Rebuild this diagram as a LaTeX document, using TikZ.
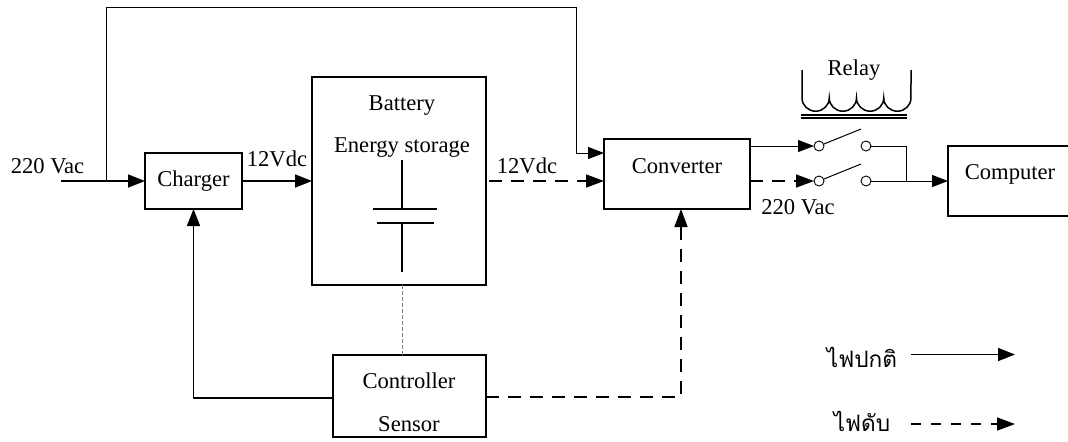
\documentclass[tikz,border=0pt]{standalone}
\usepackage{fontspec}
\setmainfont{Liberation Serif}
\newfontfamily\thaifont[Script=Thai]{Loma}
\usetikzlibrary{arrows.meta,positioning}

\begin{document}
\begin{tikzpicture}[x=0.5pt,y=-0.5pt,font=\fontsize{11.3}{13.5}\selectfont]
\tikzset{
  block/.style={draw,line width=0.75pt,inner sep=0pt,outer sep=0pt,align=center},
  txt/.style={inner sep=0pt,align=center},
  contact/.style={draw,circle,inner sep=0pt,outer sep=0pt,minimum size=5pt,line width=0.45pt},
  arr/.style={-{Triangle[length=8.5pt,width=6.5pt]},line width=0.75pt},
  arrthin/.style={-{Triangle[length=8pt,width=6pt]},line width=0.5pt},
  dasharr/.style={-{Triangle[length=9pt,width=6.5pt]},line width=0.75pt,dash pattern=on 6.5pt off 4.5pt},
  wire/.style={line width=0.5pt}
}
\useasboundingbox (0,0) rectangle (1068,441);
% blocks
\node(charger)[block,minimum width=48.5pt,minimum height=28pt] at (193.5,181){Charger};
\node(battery)[block,right=35pt of charger,minimum width=87pt,minimum height=104pt]{};
\node(converter)[block,right=59pt of battery,yshift=3.5pt,minimum width=73pt,minimum height=35pt]{};
\node(computer)[block,right=99pt of converter,yshift=-3.5pt,minimum width=70pt,minimum height=35pt]{};
\node(controller)[block,below=35pt of battery.south east,anchor=north east,minimum width=76.5pt,minimum height=41pt]{};
% texts of the blocks
\node(batterytxt)[txt] at (402,126.5){Battery\\[7.6pt]Energy storage};
\node(convertertxt)[txt] at (677,166){Converter};
\node(computertxt)[txt] at (1010,174){Computer};
\node(controllertxt)[txt] at (409,402.5){Controller\\[8pt]Sensor};
% labels
\node(acin)[txt] at (47.5,166){220 Vac};
\node(dcone)[txt] at (277,159){12Vdc};
\node(dctwo)[txt] at (527,166){12Vdc};
\node(acout)[txt] at (798,207){220 Vac};
\node(relay)[txt] at (854,70){Relay};
\node(normal)[txt,font=\fontsize{11.3}{13.5}\selectfont\thaifont] at (862,357){ไฟปกติ};
\node(outage)[txt,font=\fontsize{11.3}{13.5}\selectfont\thaifont] at (862,421){ไฟดับ};
% capacitor
\coordinate(captop) at (402,160); \coordinate(capbot) at (402,272);
\coordinate(plateal) at (373,209); \coordinate(platear) at (437,209);
\coordinate(platebl) at (377,223); \coordinate(platebr) at (434,223);
\draw[line width=0.75pt](captop)--(captop|-plateal); \draw[line width=0.75pt](capbot)--(capbot|-platebl);
\draw[line width=0.75pt](plateal)--(platear); \draw[line width=0.75pt](platebl)--(platebr);
% relay
\coordinate(coilal) at (802,70); \coordinate(coilas) at (802,98);
\coordinate(coilbl) at (911,70);
\draw[line width=0.75pt](coilal)--(coilas)
  \foreach \i in {1,...,4}{arc[start angle=180,end angle=360,x radius=6.81pt,y radius=6.6pt]}
  --(coilbl);
\coordinate(coreal) at (801,115); \coordinate(corear) at (907,115);
\coordinate(corebl) at (801,118); \coordinate(corebr) at (907,118);
\draw[line width=0.6pt](coreal)--(corear); \draw[line width=0.6pt](corebl)--(corebr);
% switches
\node(swal)[contact] at (819,146){}; \node(swar)[contact] at (866,146){};
\node(swbl)[contact] at (819,181){}; \node(swbr)[contact] at (866,181){};
\coordinate(bladea) at (861,129); \coordinate(bladeb) at (861,164);
\draw[wire](swal)--(bladea); \draw[wire](swbl)--(bladeb);
\coordinate(joint) at (906,181); \coordinate(jointup) at (906,146);
\draw[wire](swar)--(jointup)--(joint);
% main lines
\coordinate(inlet) at (61,181); \coordinate(branch) at (106,181);
\coordinate(topleft) at (106,7); \coordinate(bypass) at (576,153);
\draw[arr](inlet)--(charger);
\draw[arrthin](branch)--(topleft)-|(bypass)--(bypass-|converter.west);
\draw[arr](charger)--(battery);
\draw[dasharr]([xshift=1.5pt]battery.east)--(battery.east-|converter.west);
\draw[arr]([yshift=-1pt]controller.west)-|(charger.south);
\draw[dasharr]([yshift=-0.5pt]controller.east)-|([xshift=2pt]converter.south);
\draw[wire,gray,dash pattern=on 2pt off 1pt](controller.north-|captop)--(battery.south-|captop);
\coordinate(outa) at (converter.east|-swal); \coordinate(outb) at (converter.east|-swbl);
\draw[arrthin](outa)--(swal);
\draw[dasharr](outb)--(swbl);
\draw[arrthin](swbr)--(swbr-|computer.west);
% legend
\coordinate(lega) at (911,354.5); \coordinate(legaend) at (1015,354.5);
\coordinate(legb) at (911,424); \coordinate(legbend) at (1015,424);
\draw[arr](lega)--(legaend);
\draw[dasharr,dash pattern=on 5pt off 5pt](legb)--(legbend);
\end{tikzpicture}
\end{document}
